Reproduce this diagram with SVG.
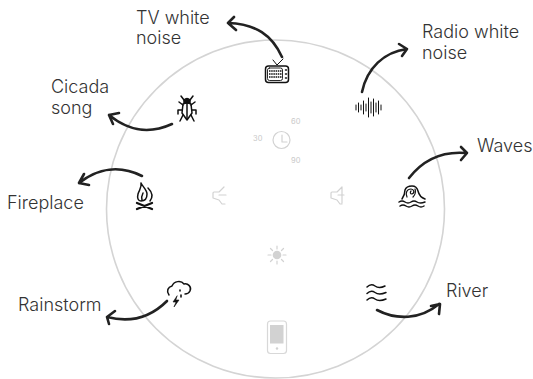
<svg xmlns="http://www.w3.org/2000/svg" width="533" height="379" viewBox="0 0 533 379">
<style>
text{font-family:"Inter","Liberation Sans",sans-serif;font-weight:300;stroke:none}
.l{font-size:18px;fill:#333}
.s{font-size:7.5px;fill:#c9c9c9;font-weight:400}
.c{fill:none;stroke:#222;stroke-width:2.6;stroke-linecap:round;stroke-linejoin:round}
.i{fill:none;stroke:#111;stroke-width:1.5;stroke-linecap:round;stroke-linejoin:round}
.g{fill:none;stroke:#d2d2d2;stroke-width:1.2;stroke-linecap:round;stroke-linejoin:round}
</style>
<circle id="dial" cx="275.500" cy="209" r="169" fill="none" stroke="#d4d4d4" stroke-width="1.600"/>
<g id="connectors" class="c">
<path d="M282 57C272 35 256 24 228 23M234 17L228 23L236 30"/>
<path d="M362 92C367 68 384 52 407 49M399 44L407 49L402 56"/>
<path d="M409 178C423 160 442 151 466 153M461 147L467 153L461 160"/>
<path d="M172 124C150 134 130 132 109 115M119 113L109 115L113 124"/>
<path d="M142 176C120 165 98 168 79 183M84 174L79 183L89 185"/>
<path d="M167 301C150 318 130 323 107 317M115 311L107 317L109 324"/>
<path d="M377 310C396 320 420 320 439 304M431 306L440 304L439 314"/>
</g>
<g id="tv" class="i">
<rect x="265.500" y="66" width="23" height="16.500" rx="3"/>
<rect x="267.500" y="68" width="15" height="12.500" rx="2" stroke-width=".9"/>
<path d="M273 60L277 65L283 59" stroke-width="1"/>
<path d="M269 71H281.500M269 74H281.500M269 77H281.500" stroke-dasharray="1.500 .7" stroke-width="1.700" stroke-linecap="butt"/>
<path d="M285.500 70H286.500M285.500 74H286.500M285.500 78H286.500"/>
<text class="l" x="136" y="24">TV white</text>
<text class="l" x="136" y="44">noise</text>
</g>
<g id="radio" class="i">
<path stroke-width="1" d="M356 105V110M358.500 103V112M361 105V110M363.500 101V114M366 104V111M368.500 98V117M371 102V113M373.500 99V116M376 103V112M378.500 101V114M381 105V110"/>
<text class="l" x="422" y="38">Radio white</text>
<text class="l" x="422" y="59">noise</text>
</g>
<g id="waves" class="i">
<path d="M402 199C404 196 405 193 405 190C406 187 409 186 412 186C415 186 417 187 418 191C419 195 422 198 425 199"/>
<path d="M407 197C405 193 407 189 411 189C414 189 415 193 412 194C410 194 410 192 411 191M413 197C415 195 416 192 415 189" stroke-width="1.200"/>
<path d="M399 202Q402 200 405 202T411 202T417 202T425 202M400 206Q403 204 406 206T412 206T418 206T424 206"/>
<text class="l" x="477" y="152">Waves</text>
</g>
<g id="cicada" class="i">
<path d="M181 96L184 100M193 96L190 100"/>
<path fill="#111" d="M184 100Q187 97 190 100L190 103H184Z"/>
<path d="M183 104Q187 102 191 104L192 113L187 120L182 113Z"/>
<path d="M187 104V119M183 105L179 102M191 105L195 102M182 110H178V114M192 110H196V114M183 115L180 121M191 115L194 121"/>
<text class="l" x="51" y="93">Cicada</text>
<text class="l" x="51" y="114">song</text>
</g>
<g id="fireplace" class="i">
<path d="M141 183C143 187 147 190 147 194C147 198 145 201 141 201C138 201 137 198 138 194C139 190 142 188 141 183ZM148 188C152 192 153 197 150 201M142 200C141 197 142 195 143 193"/>
<path d="M137 203L152 209M152 203L137 209" stroke-width="2.300"/>
<text class="l" x="7" y="209">Fireplace</text>
</g>
<g id="rainstorm" class="i">
<path d="M169 295C166 291 168 287 172 286C174 281 181 280 184 284C188 283 192 287 190 291C189 293 187 294 185 294"/>
<path fill="#111" stroke-width=".6" d="M177 296L173 302H176L174 307L179 300H176Z"/>
<path d="M180 290V291M181 295V297" stroke-width="1.600"/>
<text class="l" x="18" y="311">Rainstorm</text>
</g>
<g id="river" class="i">
<path d="M367 287Q371 283 375 286T385 286M367 293.500Q371 289.500 375 292.500T386 292.500M367 300Q371 296 375 299T386 299"/>
<text class="l" x="446" y="297">River</text>
</g>
<g id="clock" class="g">
<circle cx="281.500" cy="140" r="8.500"/>
<path d="M282 135V142H287"/>
<text class="s" x="253" y="141">30</text>
<text class="s" x="291" y="124">60</text>
<text class="s" x="291" y="163">90</text>
</g>
<g id="volume-down" class="g" stroke-width="1.300">
<path d="M224 187L219 192H214Q213 192 213 193V198L219 200L222 204H225M219 195H226"/>
</g>
<g id="volume-up" class="g" stroke-width="1.300">
<path d="M342 187L337 192H332Q331 192 331 193V198L337 200L340 204H342M338 195H344M342 187V203"/>
</g>
<g id="brightness">
<circle cx="277" cy="255" r="4.300" fill="#d2d2d2"/>
<path class="g" d="M277 246V249M277 261V264M268 255H271M283 255H286M270.500 248.500L272.500 250.500M281.500 259.500L283.500 261.500M283.500 248.500L281.500 250.500M272.500 259.500L270.500 261.500"/>
</g>
<g id="phone">
<rect x="267.500" y="321" width="19" height="32.500" rx="3" fill="#fff" stroke="#d8d8d8" stroke-width="1.200"/>
<rect x="270" y="325" width="13.500" height="18.500" fill="#d2d2d2"/>
<circle cx="277" cy="348.500" r="1.200" fill="#d2d2d2"/>
</g>
</svg>
